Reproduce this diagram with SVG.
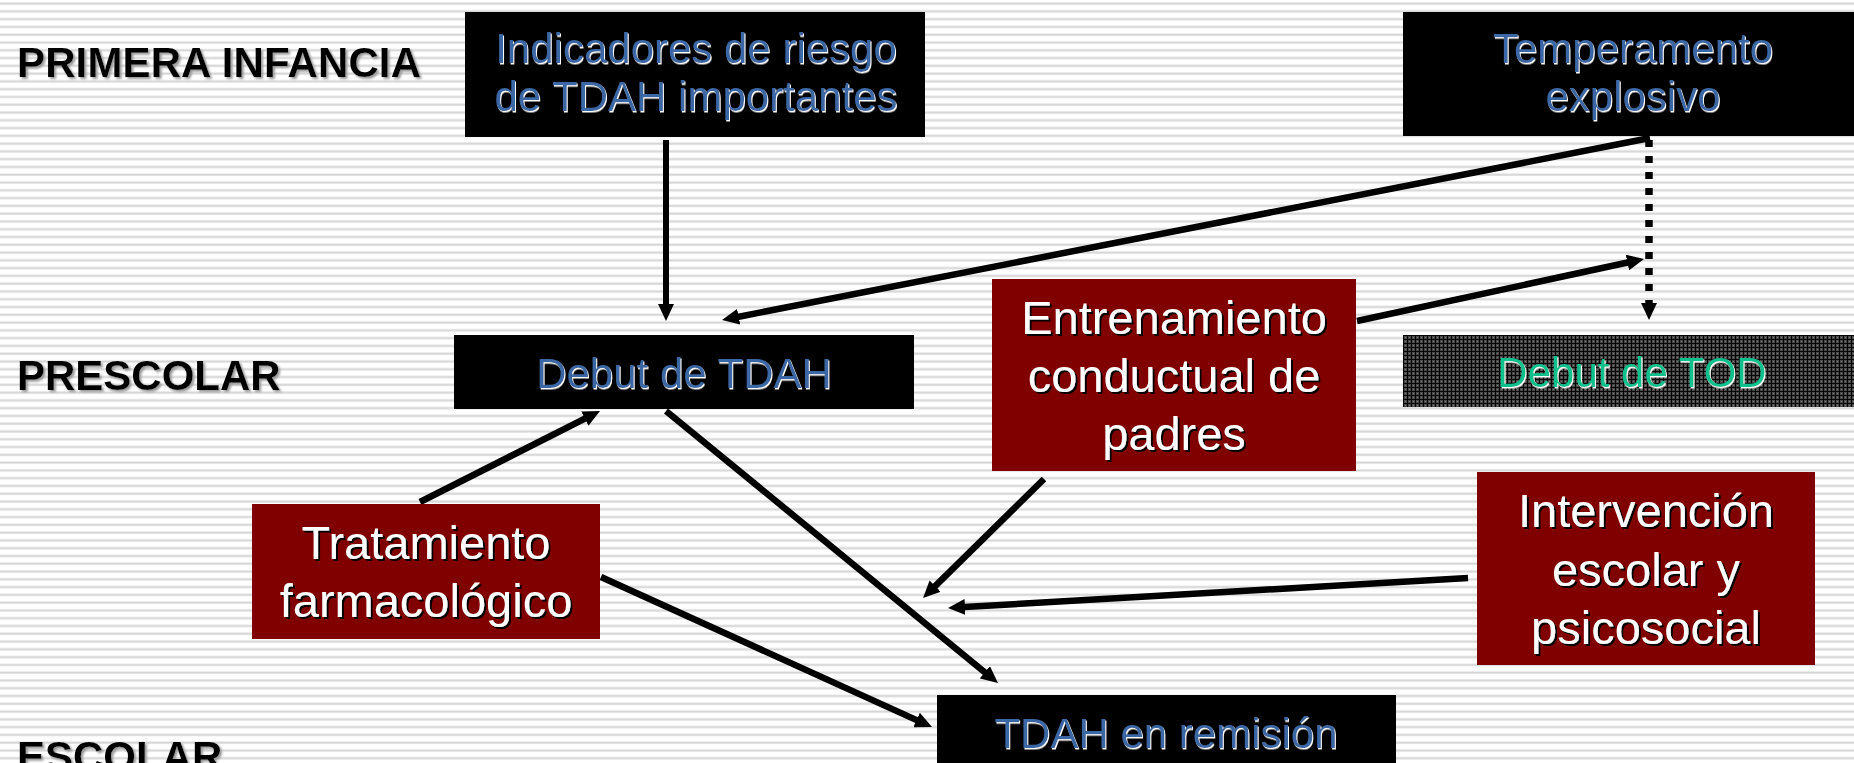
<svg xmlns="http://www.w3.org/2000/svg" width="1854" height="763" viewBox="0 0 1854 763">
<style>
  .lbl { font-family: "Liberation Sans", Arial, sans-serif; font-weight: bold; font-size: 42px; fill: #000; filter: url(#shGray); }
  .blk { fill: #000; }
  .red { fill: #800000; }
  .tblue { font-family: "Liberation Sans", Arial, sans-serif; font-size: 42px; fill: #3a67a4; text-anchor: middle; filter: url(#shWhite); }
  .tgreen { font-family: "Liberation Sans", Arial, sans-serif; font-size: 42px; fill: #10c08c; text-anchor: middle; filter: url(#shWhite); }
  .twhite { font-family: "Liberation Sans", Arial, sans-serif; font-size: 47px; fill: #fff; text-anchor: middle; filter: url(#shBlack); }
  .conn { stroke: #000; stroke-width: 6.5; fill: none; marker-end: url(#ah); }
  .thin { stroke-width: 6; }
  .dash { stroke-width: 7.5; stroke-dasharray: 7 9; }
</style>
<defs>
  <pattern id="stripes" patternUnits="userSpaceOnUse" x="0" y="0" width="20" height="7.78">
    <rect x="0" y="2.2" width="20" height="2.8" fill="#e6e6e6"/>
    <rect x="0" y="2.9" width="20" height="1.3" fill="#d6d6d6"/>
  </pattern>
  <pattern id="grid" patternUnits="userSpaceOnUse" x="1403" y="335" width="4" height="4">
    <rect x="0" y="0" width="4" height="4" fill="#4a4a4a"/>
    <rect x="0" y="0" width="4" height="1" fill="#050505"/>
    <rect x="0" y="0" width="1" height="4" fill="#050505"/>
    <rect x="2" y="2" width="1" height="1" fill="#7a7a7a"/>
  </pattern>
  <filter id="shWhite" x="-5%" y="-20%" width="110%" height="140%">
    <feDropShadow dx="1" dy="1.5" stdDeviation="0.4" flood-color="#ffffff" flood-opacity="1"/>
  </filter>
  <filter id="shBlack" x="-5%" y="-20%" width="110%" height="140%">
    <feDropShadow dx="2" dy="2" stdDeviation="0.4" flood-color="#000000" flood-opacity="1"/>
  </filter>
  <filter id="shGray" x="-5%" y="-20%" width="110%" height="140%">
    <feDropShadow dx="2" dy="2" stdDeviation="1" flood-color="#9a9a9a" flood-opacity="1"/>
  </filter>
  <marker id="ah" markerUnits="userSpaceOnUse" viewBox="0 0 17 16" markerWidth="17" markerHeight="16" refX="5" refY="8" orient="auto">
    <path d="M0,0 L17,8 L0,16 z" fill="#000"/>
  </marker>
</defs>

<rect x="0" y="0" width="1854" height="763" fill="#ffffff"/>
<rect x="0" y="0" width="1854" height="763" fill="url(#stripes)"/>

<g id="labels">
  <text class="lbl" x="17" y="77" textLength="404">PRIMERA INFANCIA</text>
  <text class="lbl" x="17" y="390">PRESCOLAR</text>
  <text class="lbl" x="17" y="771">ESCOLAR</text>
</g>

<g id="connectors">
  <line class="conn thin" x1="666" y1="140" x2="666" y2="309"/>
  <line class="conn" x1="1650" y1="138" x2="733.8" y2="317.7"/>
  <line class="conn dash" x1="1649" y1="140" x2="1649" y2="308"/>
  <line class="conn" x1="1357" y1="321" x2="1632.3" y2="261.5"/>
  <line class="conn" x1="1044" y1="479" x2="931.6" y2="589.6"/>
  <line class="conn" x1="1468" y1="578" x2="960" y2="607.3"/>
  <line class="conn" x1="666" y1="411" x2="988.7" y2="675.4"/>
  <line class="conn" x1="420" y1="502" x2="589.3" y2="416.4"/>
  <line class="conn" x1="601" y1="577" x2="921.1" y2="722.1"/>
</g>

<g id="n-indicadores">
  <rect class="blk" x="465" y="12" width="460" height="125"/>
  <text class="tblue" x="696" y="63">Indicadores de riesgo</text>
  <text class="tblue" x="696" y="111">de TDAH importantes</text>
</g>

<g id="n-temperamento">
  <rect class="blk" x="1403" y="12" width="460" height="124"/>
  <text class="tblue" x="1633" y="63">Temperamento</text>
  <text class="tblue" x="1633" y="111">explosivo</text>
</g>

<g id="n-debut-tdah">
  <rect class="blk" x="454" y="335" width="460" height="74"/>
  <text class="tblue" x="684" y="388">Debut de TDAH</text>
</g>

<g id="n-debut-tod">
  <rect x="1403" y="335" width="460" height="72" fill="url(#grid)"/>
  <text class="tgreen" x="1632" y="387">Debut de TOD</text>
</g>

<g id="n-entrenamiento">
  <rect class="red" x="992" y="279" width="364" height="192"/>
  <text class="twhite" x="1174" y="334">Entrenamiento</text>
  <text class="twhite" x="1174" y="392">conductual de</text>
  <text class="twhite" x="1174" y="450">padres</text>
</g>

<g id="n-tratamiento">
  <rect class="red" x="252" y="504" width="348" height="135"/>
  <text class="twhite" x="426" y="559">Tratamiento</text>
  <text class="twhite" x="426" y="617">farmacológico</text>
</g>

<g id="n-intervencion">
  <rect class="red" x="1477" y="472" width="338" height="193"/>
  <text class="twhite" x="1646" y="527">Intervención</text>
  <text class="twhite" x="1646" y="586">escolar y</text>
  <text class="twhite" x="1646" y="644">psicosocial</text>
</g>

<g id="n-remision">
  <rect class="blk" x="937" y="695" width="459" height="80"/>
  <text class="tblue" x="1166" y="748">TDAH en remisión</text>
</g>
</svg>
